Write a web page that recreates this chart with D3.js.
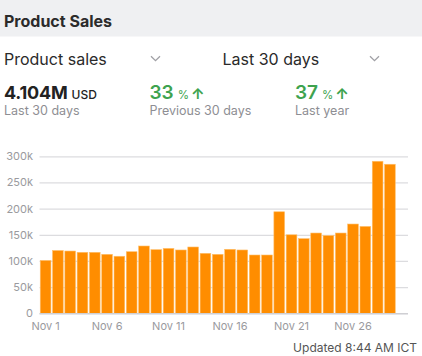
<!DOCTYPE html>
<html><head><meta charset="utf-8">
<script src="https://cdn.jsdelivr.net/npm/d3@7"></script>
<style>
html,body{margin:0;padding:0;background:#fff;overflow:hidden;}
svg{display:block;font-family:"Inter","Roboto","Noto Sans",sans-serif;}
</style></head>
<body><svg id="c" width="422" height="356"></svg>
<script>
const days = ["Nov 1","Nov 2","Nov 3","Nov 4","Nov 5","Nov 6","Nov 7","Nov 8","Nov 9","Nov 10","Nov 11","Nov 12","Nov 13","Nov 14","Nov 15","Nov 16","Nov 17","Nov 18","Nov 19","Nov 20","Nov 21","Nov 22","Nov 23","Nov 24","Nov 25","Nov 26","Nov 27","Nov 28","Nov 29"];
const sales = [101000,120000,119000,116500,116500,112700,109000,117700,128600,121600,124000,121000,126700,114600,112700,122300,121000,111400,111400,194000,150000,142600,153400,148400,153400,170600,166000,290500,284800];
const yTicks = [0,50000,100000,150000,200000,250000,300000];
const xTickLabels = ["Nov 1","Nov 6","Nov 11","Nov 16","Nov 21","Nov 26"];

const svg = d3.select("#c");
// header
svg.append("rect").attr("x",0).attr("y",0).attr("width",422).attr("height",36.5).attr("fill","#eff0f2");
svg.append("text").attr("x",4).attr("y",26.5).attr("font-size",16).attr("font-weight",700).attr("fill","#2b2b2b").text("Product Sales");

// dropdowns
svg.append("text").attr("x",4).attr("y",65).attr("font-size",16).attr("fill","#2a2a2a").text("Product sales");
svg.append("text").attr("x",222.5).attr("y",65).attr("font-size",16).attr("fill","#2a2a2a").text("Last 30 days");
function chevron(cx,cy){
  svg.append("path").attr("d",`M${cx-4.5},${cy-2.2} L${cx},${cy+2.2} L${cx+4.5},${cy-2.2}`)
    .attr("fill","none").attr("stroke","#a0a0a5").attr("stroke-width",1.3);
}
chevron(155.5,58.5);
chevron(374.5,58.5);

// KPIs
const g1 = svg.append("text").attr("x",4).attr("y",99).attr("fill","#222");
g1.append("tspan").attr("font-size",18).attr("font-weight",700).attr("letter-spacing",-0.2).text("4.104M");
g1.append("tspan").attr("font-size",12).attr("font-weight",500).attr("dx",4).text("USD");
svg.append("text").attr("x",4).attr("y",114.5).attr("font-size",12.5).attr("fill","#8e8e93").text("Last 30 days");

function kpi(x,val,label){
  const t = svg.append("text").attr("x",x).attr("y",99).attr("fill","#3ea34f");
  t.append("tspan").attr("font-size",19).attr("font-weight",600).text(val);
  t.append("tspan").attr("font-size",11.5).attr("dx",4).text("%");
  t.append("tspan").attr("font-size",15).attr("font-weight",700).attr("dx",2).text("\u2191");
  svg.append("text").attr("x",x).attr("y",114.5).attr("font-size",12.5).attr("fill","#8e8e93").text(label);
}
kpi(149.5,"33","Previous 30 days");
kpi(295,"37","Last year");

// chart
const y = d3.scaleLinear().domain([0,300000]).range([313.3,156.3]);
const x = d3.scaleBand().domain(days).range([39.5,396]).paddingInner(0.13).paddingOuter(0.06);

const yAxis = d3.axisLeft(y).tickValues(yTicks).tickSize(-(408-39.5)).tickPadding(6)
  .tickFormat(d => d===0 ? "0" : (d/1000)+"k");
const ya = svg.append("g").attr("transform","translate(39.5,0)").call(yAxis);
ya.select(".domain").remove();
ya.selectAll(".tick line").attr("stroke","#dcdcdf").attr("stroke-width",1.2);
ya.selectAll(".tick text").attr("font-size",11).attr("fill","#9a9a9e").attr("x",-6.5)
  .attr("font-family","Inter,Roboto,sans-serif");

svg.append("g").selectAll("rect").data(sales).join("rect")
  .attr("x",(d,i)=>x(days[i]))
  .attr("width",x.bandwidth())
  .attr("y",d=>y(d))
  .attr("height",d=>y(0)-y(d))
  .attr("fill","#ff8d00")
  .attr("stroke","#ffbf6a").attr("stroke-width",0.6);

svg.append("line").attr("x1",39.5).attr("x2",408).attr("y1",313.6).attr("y2",313.6).attr("stroke","#cfcfd3").attr("stroke-width",1.3);

const xAxis = d3.axisBottom(x).tickValues(xTickLabels).tickSize(0).tickPadding(9);
const xa = svg.append("g").attr("transform","translate(0,313.3)").call(xAxis);
xa.select(".domain").remove();
xa.selectAll(".tick text").attr("font-size",11).attr("fill","#9a9a9e").attr("font-family","Inter,Roboto,sans-serif");

svg.append("text").attr("x",417).attr("y",352).attr("text-anchor","end").attr("font-size",12).attr("fill","#555").text("Updated 8:44 AM ICT");
</script></body></html>
